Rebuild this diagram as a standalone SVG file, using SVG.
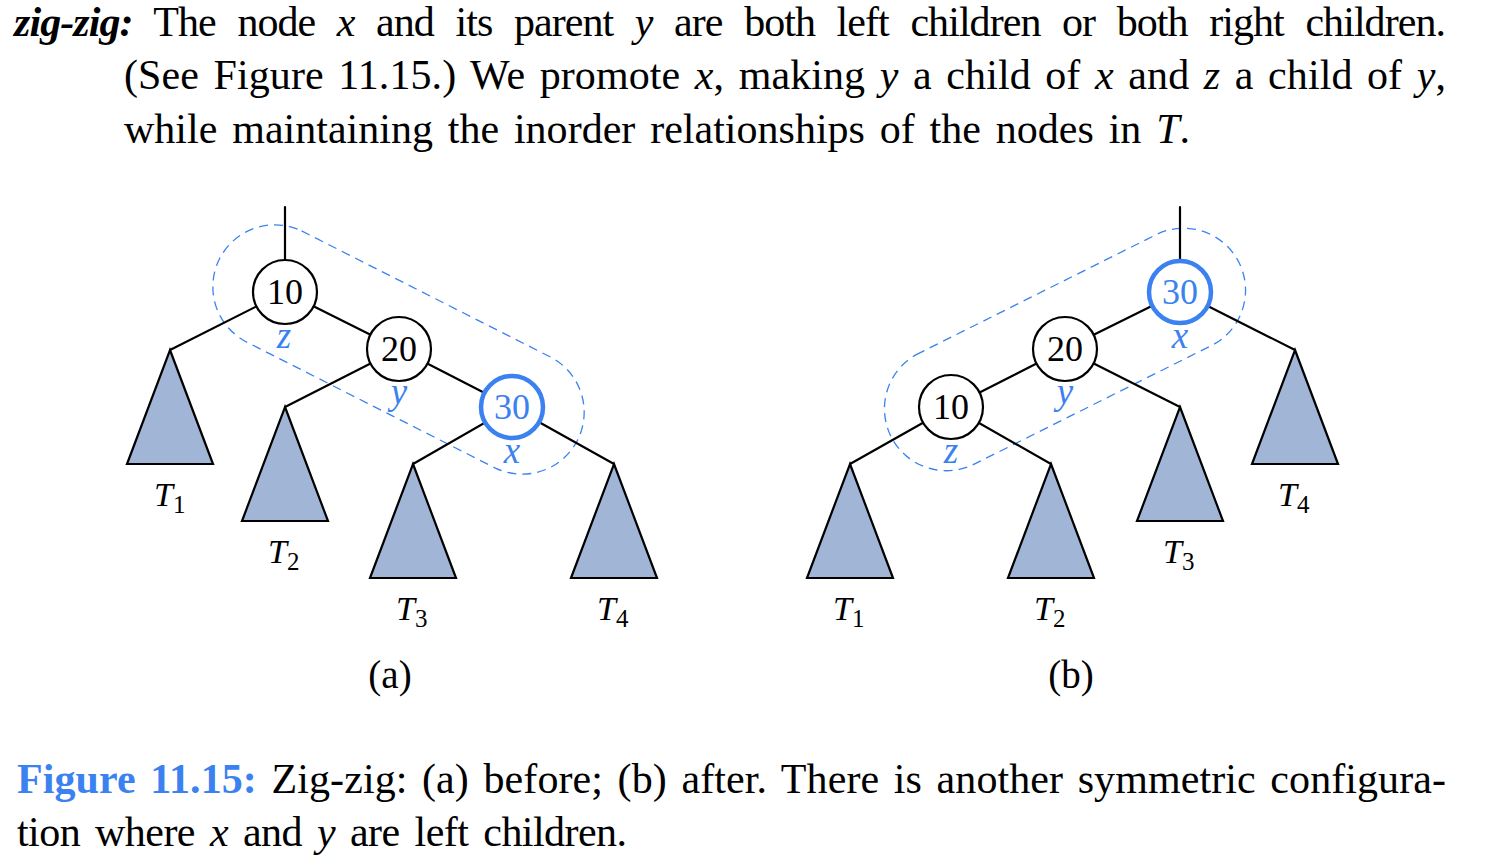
<svg xmlns="http://www.w3.org/2000/svg" width="1486" height="864" viewBox="0 0 1486 864">
  <style>
    .txt { font-family: "Liberation Serif", "Times New Roman", serif; font-size: 42px; fill: #000; }
    .it { font-style: italic; }
    .edge { stroke: #000; stroke-width: 2.2; fill: none; stroke-linecap: round; }
    .node { fill: #fff; stroke: #000; stroke-width: 2.2; }
    .hot { fill: #fff; stroke: #3b82f0; stroke-width: 4.5; }
    .num { font-family: "Liberation Serif", "Times New Roman", serif; font-size: 36px; text-anchor: middle; fill: #000; }
    .hotnum { fill: #3b82f0; }
    .role { font-family: "Liberation Serif", "Times New Roman", serif; font-style: italic; font-size: 37px; text-anchor: middle; fill: #3b82f0; }
    .sub { fill: #a1b5d6; stroke: #000; stroke-width: 2.2; stroke-linejoin: miter; }
    .tlab { font-family: "Liberation Serif", "Times New Roman", serif; font-size: 34px; fill: #000; }
    .group { fill: none; stroke: #3b82f0; stroke-width: 1.3; stroke-dasharray: 9 6; }
    .cap { font-family: "Liberation Serif", "Times New Roman", serif; font-size: 39px; text-anchor: middle; fill: #000; }
  </style>

  <!-- paragraph text -->
  <g id="body-text">
    <text class="txt" x="14" y="36" font-size="40" word-spacing="12" textLength="1432" lengthAdjust="spacing"><tspan font-weight="bold" font-style="italic">zig-zig:</tspan> The node <tspan class="it">x</tspan> and its parent <tspan class="it">y</tspan> are both left children or both right children.</text>
    <text class="txt" x="124" y="89" word-spacing="4" textLength="1322" lengthAdjust="spacing">(See Figure 11.15.) We promote <tspan class="it">x</tspan>, making <tspan class="it">y</tspan> a child of <tspan class="it">x</tspan> and <tspan class="it">z</tspan> a child of <tspan class="it">y</tspan>,</text>
    <text class="txt" x="124" y="143" word-spacing="4.3" textLength="1066" lengthAdjust="spacing">while maintaining the inorder relationships of the nodes in <tspan class="it">T</tspan>.</text>
  </g>

  <!-- dashed outlines around the rotated triple -->
  <g id="outlines">
    <path class="group" d="M301.6,230.9 L551.4,357.5 A62,62 0 0 1 495.4,468.1 L245.6,341.5 A62,62 0 0 1 301.6,230.9 Z"/>
    <path class="group" d="M916.3,354.6 L1158.3,233.6 A62,62 0 0 1 1213.7,344.4 L971.7,465.4 A62,62 0 0 1 916.3,354.6 Z"/>
  </g>

  <!-- connectors -->
  <g id="connectors">
    <!-- (a) before -->
    <line class="edge" x1="285" y1="207" x2="285" y2="292"/>
    <line class="edge" x1="285" y1="292" x2="170" y2="350"/>
    <line class="edge" x1="285" y1="292" x2="399" y2="349"/>
    <line class="edge" x1="399" y1="349" x2="285" y2="407"/>
    <line class="edge" x1="399" y1="349" x2="512" y2="407"/>
    <line class="edge" x1="512" y1="407" x2="413" y2="464"/>
    <line class="edge" x1="512" y1="407" x2="614" y2="464"/>
    <!-- (b) after -->
    <line class="edge" x1="1180" y1="207" x2="1180" y2="292"/>
    <line class="edge" x1="1180" y1="292" x2="1065" y2="349"/>
    <line class="edge" x1="1180" y1="292" x2="1295" y2="350"/>
    <line class="edge" x1="1065" y1="349" x2="951" y2="407"/>
    <line class="edge" x1="1065" y1="349" x2="1180" y2="407"/>
    <line class="edge" x1="951" y1="407" x2="850" y2="464"/>
    <line class="edge" x1="951" y1="407" x2="1051" y2="464"/>
  </g>

  <!-- (a) subtrees -->
  <g id="a-T1">
    <polygon class="sub" points="170,350 213,464 127,464"/>
    <text class="tlab" x="154" y="506"><tspan font-style="italic">T</tspan><tspan font-size="25" dy="7">1</tspan></text>
  </g>
  <g id="a-T2">
    <polygon class="sub" points="285,407 328,521 242,521"/>
    <text class="tlab" x="268" y="563"><tspan font-style="italic">T</tspan><tspan font-size="25" dy="7">2</tspan></text>
  </g>
  <g id="a-T3">
    <polygon class="sub" points="413,464 456,578 370,578"/>
    <text class="tlab" x="396" y="620"><tspan font-style="italic">T</tspan><tspan font-size="25" dy="7">3</tspan></text>
  </g>
  <g id="a-T4">
    <polygon class="sub" points="614,464 657,578 571,578"/>
    <text class="tlab" x="597" y="620"><tspan font-style="italic">T</tspan><tspan font-size="25" dy="7">4</tspan></text>
  </g>

  <!-- (a) nodes -->
  <g id="a-node-10">
    <circle class="node" cx="285" cy="292" r="32"/>
    <text class="num" x="285" y="304">10</text>
    <text class="role" x="284" y="348">z</text>
  </g>
  <g id="a-node-20">
    <circle class="node" cx="399" cy="349" r="32"/>
    <text class="num" x="399" y="361">20</text>
    <text class="role" x="399" y="404">y</text>
  </g>
  <g id="a-node-30">
    <circle class="hot" cx="512" cy="407" r="31"/>
    <text class="num hotnum" x="512" y="419">30</text>
    <text class="role" x="512" y="463">x</text>
  </g>

  <!-- (b) subtrees -->
  <g id="b-T1">
    <polygon class="sub" points="850,464 893,578 807,578"/>
    <text class="tlab" x="833" y="620"><tspan font-style="italic">T</tspan><tspan font-size="25" dy="7">1</tspan></text>
  </g>
  <g id="b-T2">
    <polygon class="sub" points="1051,464 1094,578 1008,578"/>
    <text class="tlab" x="1034" y="620"><tspan font-style="italic">T</tspan><tspan font-size="25" dy="7">2</tspan></text>
  </g>
  <g id="b-T3">
    <polygon class="sub" points="1180,407 1223,521 1137,521"/>
    <text class="tlab" x="1163" y="563"><tspan font-style="italic">T</tspan><tspan font-size="25" dy="7">3</tspan></text>
  </g>
  <g id="b-T4">
    <polygon class="sub" points="1295,350 1338,464 1252,464"/>
    <text class="tlab" x="1278" y="506"><tspan font-style="italic">T</tspan><tspan font-size="25" dy="7">4</tspan></text>
  </g>

  <!-- (b) nodes -->
  <g id="b-node-30">
    <circle class="hot" cx="1180" cy="292" r="31"/>
    <text class="num hotnum" x="1180" y="304">30</text>
    <text class="role" x="1180" y="348">x</text>
  </g>
  <g id="b-node-20">
    <circle class="node" cx="1065" cy="349" r="32"/>
    <text class="num" x="1065" y="361">20</text>
    <text class="role" x="1065" y="404">y</text>
  </g>
  <g id="b-node-10">
    <circle class="node" cx="951" cy="407" r="32"/>
    <text class="num" x="951" y="419">10</text>
    <text class="role" x="951" y="463">z</text>
  </g>

  <!-- panel labels -->
  <g id="panel-labels">
    <text class="cap" x="390" y="688">(a)</text>
    <text class="cap" x="1071" y="688">(b)</text>
  </g>

  <!-- figure caption -->
  <g id="caption">
    <text class="txt" x="17" y="793" word-spacing="4" textLength="1429" lengthAdjust="spacing"><tspan font-weight="bold" fill="#3b82f0">Figure 11.15:</tspan> Zig-zig: (a) before; (b) after. There is another symmetric configura-</text>
    <text class="txt" x="17" y="846" word-spacing="5" textLength="610" lengthAdjust="spacing">tion where <tspan class="it">x</tspan> and <tspan class="it">y</tspan> are left children.</text>
  </g>
</svg>
